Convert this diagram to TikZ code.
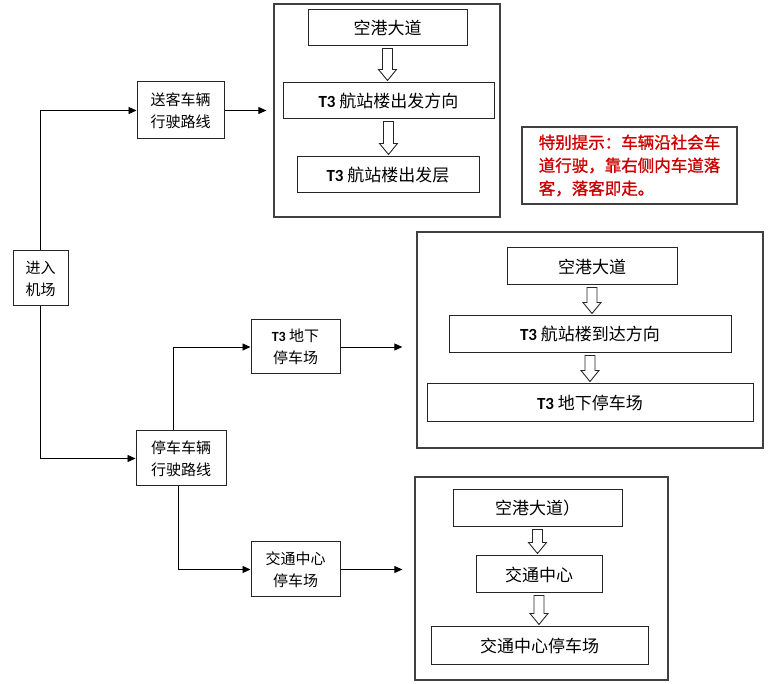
\documentclass[tikz,border=0pt]{standalone}
\usepackage{fontspec}
\newfontfamily\cjk{Noto Sans CJK SC}
\newfontfamily\cjknote[FakeBold=1.2]{Noto Sans CJK SC}
\newfontfamily\latinb{Carlito}
\usepackage{tikz}
\usetikzlibrary{calc,arrows.meta,positioning}

\tikzset{
  box/.style={draw=black!85,line width=1pt,inner sep=1pt,align=center,font=\cjk\fontsize{17}{23}\selectfont},
  sidebox/.style={box,font=\cjk\fontsize{15}{22}\selectfont},
  groupbox/.style={draw=black!75,line width=1.3pt,inner sep=0pt},
  flow/.style={-{Triangle[length=8pt,width=7pt]},line width=0.9pt},
  hollowarrow/.style={draw=black!85,line width=0.9pt,fill=white}
}
\newcommand\Tthree{{\latinb\bfseries T3}\ }
% hollow arrow from the bottom of one box to the top of the next
\newcommand\downblock[2]{%
  \draw[hollowarrow] let \p1=($(#1.south)+(0,-2pt)$), \p2=($(#2.north)+(0,2pt)$) in
    (\x1-5pt,\y1) -- (\x1-5pt,\y2+11pt) -- (\x1-9pt,\y2+11pt) -- (\x1,\y2)
    -- (\x1+9pt,\y2+11pt) -- (\x1+5pt,\y2+11pt) -- (\x1+5pt,\y1) -- cycle;}

\begin{document}
\begin{tikzpicture}[x=1pt,y=-1pt]
  \useasboundingbox (0,0) rectangle (772,684);
  \fill[white] (0,0) rectangle (772,684);

  % departure group
  \node[groupbox,minimum width=226,minimum height=213] (groupa) at (387,110.5) {};
  \node[box,minimum width=159,minimum height=36] (a1) at (387.5,28) {空港大道};
  \node[box,minimum width=211,minimum height=36] (a2) at (388.5,101) {\Tthree 航站楼出发方向};
  \node[box,minimum width=182,minimum height=36] (a3) at (388,175) {\Tthree 航站楼出发层};
  \downblock{a1}{a2}
  \downblock{a2}{a3}

  % arrival group
  \node[groupbox,minimum width=346,minimum height=216] (groupb) at (590,340) {};
  \node[box,minimum width=170,minimum height=37] (b1) at (592,266.5) {空港大道};
  \node[box,minimum width=282,minimum height=37] (b2) at (590,334.5) {\Tthree 航站楼到达方向};
  \node[box,minimum width=326,minimum height=38] (b3) at (590,403) {\Tthree 地下停车场};
  \downblock{b1}{b2}
  \downblock{b2}{b3}

  % traffic centre group
  \node[groupbox,minimum width=253,minimum height=203] (groupc) at (541.5,578.5) {};
  \node[box,minimum width=169,minimum height=37] (c1) at (537.5,508.5) {空港大道）};
  \node[box,minimum width=126,minimum height=37] (c2) at (539,574.5) {交通中心};
  \node[box,minimum width=217,minimum height=38] (c3) at (539.5,646) {交通中心停车场};
  \downblock{c1}{c2}
  \downblock{c2}{c3}

  % note
  \node[groupbox,minimum width=215,minimum height=77,align=left,text=red!80!black,
        font=\cjknote\fontsize{16.5}{23}\selectfont] (note) at (629.5,165.5)
        {特别提示：车辆沿社会车\\道行驶，靠右侧内车道落\\客，落客即走。};

  % routes
  \node[sidebox,minimum width=55,minimum height=55] (enter) at (40.5,278.5) {进入\\机场};
  \node[sidebox,minimum width=87,minimum height=57] (send) at (180.5,110.5) {送客车辆\\行驶路线};
  \node[sidebox,minimum width=90,minimum height=55] (park) at (181,458.5) {停车车辆\\行驶路线};
  \node[sidebox,minimum width=89,minimum height=54] (t3park) at (295.5,347) {{\latinb\bfseries\fontsize{14}{22}\selectfont T3} 地下\\停车场};
  \node[sidebox,minimum width=89,minimum height=55] (tcpark) at (295.5,569.5) {交通中心\\停车场};

  \draw[flow] (enter.north) |- (send.west);
  \draw[flow] (enter.south) |- (park.west);
  \draw[flow,shorten >=7pt] (send.east) -- (send.east -| groupa.west);
  \draw[flow] ([xshift=-8pt]park.north) |- (t3park.west);
  \draw[flow] ([xshift=-3pt]park.south) |- (tcpark.west);
  \draw[flow,shorten >=14pt] (t3park.east) -- (t3park.east -| groupb.west);
  \draw[flow,shorten >=12pt] (tcpark.east) -- (tcpark.east -| groupc.west);
\end{tikzpicture}
\end{document}
